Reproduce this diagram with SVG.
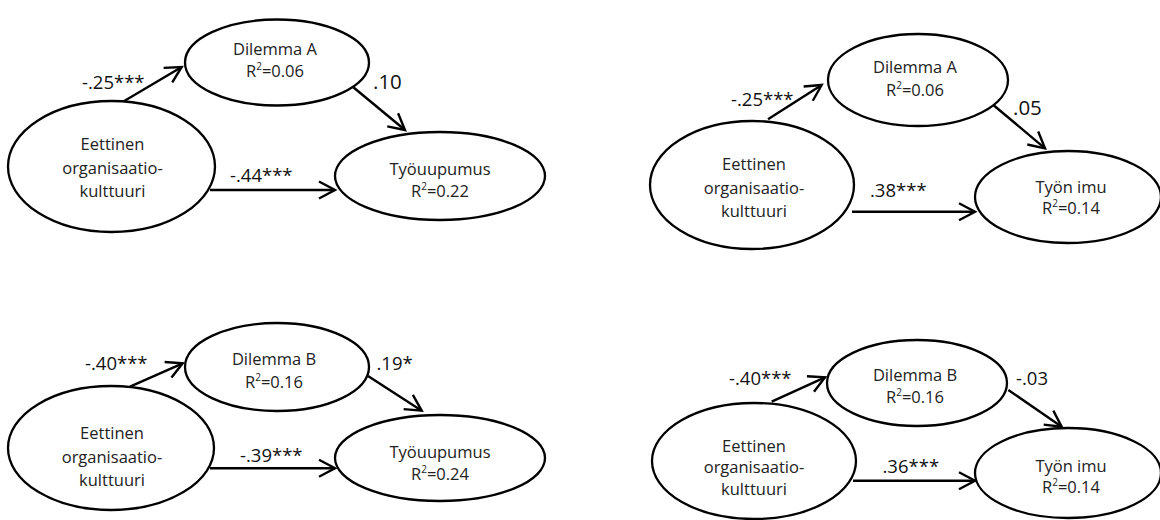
<svg xmlns="http://www.w3.org/2000/svg" width="1160" height="520" viewBox="0 0 1160 520">
<defs>
<style>
.node ellipse{fill:#fff;stroke:#000;stroke-width:2.3}
.t{font-family:"Open Sans","Liberation Sans",sans-serif;font-size:16.5px;fill:#222;text-anchor:middle}
.lab{font-family:"Open Sans","Liberation Sans",sans-serif;font-size:18.5px;fill:#111}
.labL{font-family:"Open Sans","Liberation Sans",sans-serif;font-size:20.5px;fill:#111}
.sup{font-size:10px}
#connectors line{stroke:#000;stroke-width:2.4;fill:none;marker-end:url(#ah)}
</style>
<marker id="ah" markerUnits="userSpaceOnUse" viewBox="-20 -12 26 24" refX="0" refY="0" markerWidth="26" markerHeight="24" orient="auto" overflow="visible">
<path d="M-16,-8.5 L0,0 L-16,8.5" fill="none" stroke="#000" stroke-width="2.4" stroke-linejoin="miter"/>
</marker>
</defs>
<rect width="1160" height="520" fill="#fff"/>

<g id="connectors">
<line x1="123" y1="101.7" x2="181.7" y2="67"/>
<line x1="353.3" y1="87.3" x2="405" y2="130"/>
<line x1="210" y1="190" x2="335" y2="190"/>
<line x1="768" y1="119.3" x2="821.7" y2="85"/>
<line x1="993.3" y1="105" x2="1045" y2="148.3"/>
<line x1="852" y1="211.7" x2="975" y2="211.7"/>
<line x1="130" y1="386.7" x2="182.7" y2="363.3"/>
<line x1="368" y1="376" x2="421.7" y2="410.7"/>
<line x1="210" y1="468.3" x2="335" y2="468.3"/>
<line x1="771.7" y1="401.7" x2="825" y2="377.3"/>
<line x1="1008.3" y1="390" x2="1061.7" y2="426.7"/>
<line x1="853" y1="480.7" x2="975" y2="480.7"/>
</g>

<g id="labels">
<text class="lab" x="82" y="89">-.25***</text>
<text class="labL" x="373" y="88.5">.10</text>
<text class="lab" x="230" y="182">-.44***</text>
<text class="lab" x="731" y="106">-.25***</text>
<text class="labL" x="1013" y="115">.05</text>
<text class="lab" x="870" y="196.7">.38***</text>
<text class="lab" x="85" y="370">-.40***</text>
<text class="lab" x="376.5" y="370">.19*</text>
<text class="lab" x="240" y="461.7">-.39***</text>
<text class="lab" x="729" y="385">-.40***</text>
<text class="lab" x="1016" y="385">-.03</text>
<text class="lab" x="882.5" y="473.3">.36***</text>
</g>

<g id="p1-source" class="node">
<ellipse cx="111.5" cy="166.5" rx="103.5" ry="65.5"/>
<text class="t" x="112.5" y="150">Eettinen</text>
<text class="t" x="112.5" y="174">organisaatio-</text>
<text class="t" x="112.5" y="197">kulttuuri</text>
</g>
<g id="p1-dilemmaA" class="node">
<ellipse cx="277" cy="62.5" rx="92" ry="43"/>
<text class="t" x="275" y="55">Dilemma A</text>
<text class="t" x="275" y="77">R<tspan class="sup" dy="-7">2</tspan><tspan dy="7">=0.06</tspan></text>
</g>
<g id="p1-outcome" class="node">
<ellipse cx="440" cy="176" rx="105" ry="44"/>
<text class="t" x="440" y="175">Työuupumus</text>
<text class="t" x="440" y="197">R<tspan class="sup" dy="-7">2</tspan><tspan dy="7">=0.22</tspan></text>
</g>

<g id="p2-source" class="node">
<ellipse cx="752" cy="185" rx="102" ry="64"/>
<text class="t" x="754" y="170">Eettinen</text>
<text class="t" x="754" y="194">organisaatio-</text>
<text class="t" x="754" y="216.7">kulttuuri</text>
</g>
<g id="p2-dilemmaA" class="node">
<ellipse cx="918" cy="80" rx="90" ry="46"/>
<text class="t" x="915" y="73">Dilemma A</text>
<text class="t" x="915" y="96">R<tspan class="sup" dy="-7">2</tspan><tspan dy="7">=0.06</tspan></text>
</g>
<g id="p2-outcome" class="node">
<ellipse cx="1068" cy="197" rx="93" ry="46"/>
<text class="t" x="1071" y="193.3">Työn imu</text>
<text class="t" x="1071" y="214">R<tspan class="sup" dy="-7">2</tspan><tspan dy="7">=0.14</tspan></text>
</g>

<g id="p3-source" class="node">
<ellipse cx="111" cy="448" rx="103" ry="62"/>
<text class="t" x="112" y="439.3">Eettinen</text>
<text class="t" x="112" y="463">organisaatio-</text>
<text class="t" x="112" y="486">kulttuuri</text>
</g>
<g id="p3-dilemmaB" class="node">
<ellipse cx="277" cy="367" rx="92" ry="44"/>
<text class="t" x="274" y="365">Dilemma B</text>
<text class="t" x="274" y="388">R<tspan class="sup" dy="-7">2</tspan><tspan dy="7">=0.16</tspan></text>
</g>
<g id="p3-outcome" class="node">
<ellipse cx="440" cy="458" rx="105" ry="43"/>
<text class="t" x="440" y="458.3">Työuupumus</text>
<text class="t" x="440" y="480">R<tspan class="sup" dy="-7">2</tspan><tspan dy="7">=0.24</tspan></text>
</g>

<g id="p4-source" class="node">
<ellipse cx="754" cy="461" rx="102" ry="58"/>
<text class="t" x="754" y="451.7">Eettinen</text>
<text class="t" x="754" y="473.3">organisaatio-</text>
<text class="t" x="754" y="495">kulttuuri</text>
</g>
<g id="p4-dilemmaB" class="node">
<ellipse cx="917" cy="383" rx="90" ry="43"/>
<text class="t" x="915" y="380.7">Dilemma B</text>
<text class="t" x="915" y="402.7">R<tspan class="sup" dy="-7">2</tspan><tspan dy="7">=0.16</tspan></text>
</g>
<g id="p4-outcome" class="node">
<ellipse cx="1068" cy="473" rx="93" ry="45"/>
<text class="t" x="1071" y="471.7">Työn imu</text>
<text class="t" x="1071" y="493">R<tspan class="sup" dy="-7">2</tspan><tspan dy="7">=0.14</tspan></text>
</g>
</svg>
